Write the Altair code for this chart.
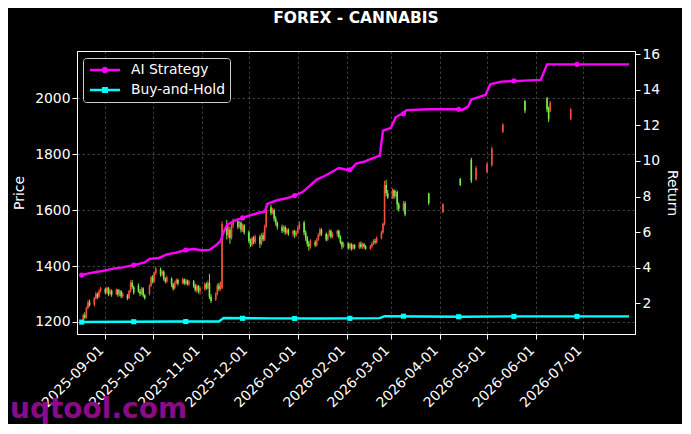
import altair as alt
import pandas as pd

TITLE = "FOREX - CANNABIS"
WATERMARK = "uqtool.com"
SERIES = ["AI Strategy", "Buy-and-Hold"]
MAGENTA = "#ff00ff"
CYAN = "#00ffff"
RED = "#f0503c"
GREEN = "#74ee48"
FONT = "DejaVu Sans"

# ---- candlestick data (daily, weekdays from 2025-08-18 to 2026-03-10, then sparse days)
dense_start = "2025-08-18"
dense_end = "2026-03-10"
sparse_dates = ["2026-03-25", "2026-04-03", "2026-04-14", "2026-04-21", "2026-04-24",
                "2026-05-01", "2026-05-04", "2026-05-11", "2026-05-25", "2026-06-08",
                "2026-06-09", "2026-06-10", "2026-06-23"]

opens = [
    1205, 1225, 1215, 1250, 1270,
    1262, 1285, 1300, 1290, 1310,
    1318, 1305, 1322, 1300, 1312,
    1300, 1315, 1298, 1310, 1292,
    1295, 1285, 1310, 1340, 1325,
    1330, 1310, 1300, 1320, 1295,
    1300, 1330, 1360, 1345, 1375,
    1388, 1370, 1380, 1355, 1345,
    1355, 1335, 1320, 1340, 1350,
    1340, 1352, 1338, 1348, 1335,
    1345, 1330, 1315, 1328, 1310,
    1318, 1335, 1320, 1340, 1290,
    1280, 1300, 1330, 1318, 1320,
    1550, 1510, 1530, 1500, 1545,
    1560, 1540, 1555, 1530, 1545,
    1520, 1490, 1475, 1500, 1485,
    1505, 1480, 1510, 1495, 1540,
    1610, 1590, 1600, 1570, 1555,
    1540, 1525, 1540, 1520, 1530,
    1515, 1525, 1510, 1520, 1535,
    1555, 1520, 1500, 1480, 1470,
    1485, 1475, 1495, 1510, 1530,
    1515, 1495, 1510, 1525, 1505,
    1515, 1525, 1505, 1485, 1470,
    1480, 1465, 1478, 1462, 1475,
    1465, 1480, 1468, 1478, 1470,
    1462, 1470, 1480, 1490, 1485,
    1500, 1520, 1550, 1690, 1660,
    1645, 1670, 1650, 1665, 1620,
    1600, 1625,
    1660, 1592, 1712, 1780, 1710, 1735, 1760, 1880, 1990, 2000, 1965, 1955, 1925,
]
closes = [
    1225, 1215, 1250, 1270, 1260,
    1285, 1300, 1290, 1310, 1320,
    1305, 1322, 1300, 1312, 1298,
    1315, 1298, 1310, 1292, 1300,
    1285, 1310, 1340, 1325, 1305,
    1310, 1300, 1320, 1295, 1285,
    1330, 1360, 1345, 1375, 1390,
    1370, 1380, 1355, 1345, 1360,
    1335, 1320, 1340, 1350, 1338,
    1352, 1338, 1348, 1335, 1345,
    1330, 1315, 1328, 1310, 1322,
    1335, 1320, 1340, 1290, 1275,
    1300, 1330, 1318, 1340, 1550,
    1510, 1530, 1500, 1545, 1560,
    1540, 1555, 1530, 1545, 1520,
    1490, 1475, 1500, 1485, 1505,
    1480, 1510, 1495, 1540, 1610,
    1590, 1600, 1570, 1555, 1540,
    1525, 1540, 1520, 1530, 1515,
    1525, 1510, 1520, 1535, 1550,
    1520, 1500, 1480, 1470, 1490,
    1475, 1495, 1510, 1530, 1515,
    1495, 1510, 1525, 1505, 1515,
    1525, 1505, 1485, 1470, 1480,
    1465, 1478, 1462, 1475, 1465,
    1480, 1468, 1478, 1470, 1462,
    1470, 1480, 1490, 1485, 1500,
    1520, 1550, 1690, 1660, 1645,
    1670, 1650, 1665, 1620, 1605,
    1625, 1585,
    1625, 1620, 1690, 1705, 1750, 1765, 1820, 1905, 1955, 1960, 1925, 1985, 1960,
]
highs = [
    1230, 1235, 1255, 1278, 1280,
    1290, 1308, 1305, 1318, 1325,
    1322, 1326, 1325, 1318, 1316,
    1320, 1318, 1316, 1314, 1306,
    1300, 1315, 1348, 1350, 1330,
    1338, 1318, 1325, 1324, 1300,
    1335, 1365, 1368, 1380, 1398,
    1395, 1386, 1384, 1360, 1366,
    1360, 1340, 1346, 1356, 1355,
    1358, 1356, 1354, 1352, 1350,
    1350, 1336, 1334, 1332, 1328,
    1340, 1342, 1348, 1372, 1300,
    1306, 1338, 1340, 1345, 1560,
    1565, 1545, 1540, 1555, 1570,
    1570, 1562, 1560, 1552, 1550,
    1528, 1498, 1505, 1508, 1512,
    1512, 1518, 1520, 1548, 1625,
    1620, 1608, 1605, 1578, 1560,
    1548, 1546, 1545, 1536, 1535,
    1530, 1530, 1526, 1545, 1560,
    1562, 1528, 1508, 1490, 1496,
    1492, 1500, 1518, 1538, 1535,
    1520, 1515, 1532, 1530, 1520,
    1530, 1530, 1510, 1490, 1486,
    1485, 1484, 1482, 1480, 1478,
    1486, 1488, 1484, 1482, 1475,
    1476, 1486, 1496, 1498, 1506,
    1526, 1556, 1705, 1708, 1672,
    1678, 1675, 1672, 1670, 1628,
    1632, 1632,
    1662, 1625, 1715, 1787, 1758, 1770, 1826, 1911, 1994, 2005, 1970, 1990, 1965,
]
lows = [
    1200, 1210, 1212, 1245, 1255,
    1255, 1280, 1282, 1286, 1305,
    1298, 1300, 1292, 1295, 1290,
    1296, 1290, 1292, 1285, 1286,
    1278, 1282, 1305, 1318, 1298,
    1305, 1292, 1296, 1288, 1280,
    1295, 1325, 1338, 1340, 1368,
    1362, 1364, 1348, 1338, 1340,
    1325, 1312, 1316, 1335, 1330,
    1335, 1332, 1333, 1330, 1330,
    1322, 1308, 1305, 1302, 1298,
    1312, 1315, 1318, 1282, 1268,
    1275, 1295, 1310, 1312, 1318,
    1495, 1500, 1480, 1495, 1535,
    1532, 1535, 1520, 1522, 1512,
    1482, 1468, 1470, 1478, 1480,
    1465, 1475, 1488, 1490, 1535,
    1582, 1585, 1560, 1545, 1530,
    1518, 1520, 1512, 1514, 1508,
    1505, 1500, 1505, 1515, 1530,
    1510, 1490, 1470, 1455, 1462,
    1468, 1470, 1490, 1505, 1508,
    1488, 1490, 1505, 1498, 1500,
    1505, 1498, 1478, 1460, 1465,
    1458, 1460, 1455, 1458, 1460,
    1460, 1462, 1462, 1462, 1458,
    1458, 1465, 1475, 1478, 1480,
    1495, 1515, 1545, 1650, 1640,
    1640, 1640, 1645, 1600, 1595,
    1595, 1578,
    1618, 1589, 1686, 1697, 1705, 1733, 1755, 1876, 1947, 1950, 1915, 1950, 1922,
]

# ---- return curves
ai_dates = ["2025-08-17", "2025-08-22", "2025-08-29", "2025-09-06", "2025-09-12", "2025-09-19",
            "2025-09-26", "2025-09-29", "2025-10-05", "2025-10-10", "2025-10-16", "2025-10-22",
            "2025-10-27", "2025-11-01", "2025-11-06", "2025-11-10", "2025-11-13", "2025-11-15",
            "2025-11-17", "2025-11-22", "2025-11-27", "2025-12-02", "2025-12-08", "2025-12-11",
            "2025-12-13", "2025-12-19", "2025-12-25", "2025-12-30", "2026-01-04", "2026-01-08",
            "2026-01-13", "2026-01-18", "2026-01-22", "2026-01-27", "2026-02-01", "2026-02-04",
            "2026-02-07", "2026-02-12", "2026-02-16", "2026-02-22", "2026-02-24", "2026-03-01",
            "2026-03-04", "2026-03-08", "2026-03-11", "2026-03-25", "2026-04-13", "2026-04-15",
            "2026-04-19", "2026-04-21", "2026-04-30", "2026-05-03", "2026-05-10", "2026-06-04",
            "2026-06-08", "2026-07-30"]
ai_values = [3.59, 3.70, 3.80, 3.95, 4.02, 4.15,
             4.30, 4.50, 4.55, 4.75, 4.85, 5.00,
             5.05, 4.98, 5.00, 5.25, 5.50, 6.00,
             6.40, 6.65, 6.80, 6.95, 7.10, 7.15,
             7.60, 7.80, 7.90, 8.05, 8.25, 8.55,
             8.95, 9.15, 9.35, 9.60, 9.50, 9.55,
             9.85, 9.95, 10.10, 10.30, 11.70, 11.85,
             12.45, 12.65, 12.85, 12.90, 12.90, 12.85,
             13.05, 13.45, 13.70, 14.30, 14.45, 14.55,
             15.42, 15.42]
bh_dates = ["2025-08-17", "2025-09-15", "2025-10-15", "2025-11-12", "2025-11-15", "2025-12-15",
            "2026-01-15", "2026-02-22", "2026-02-25", "2026-04-15", "2026-05-15", "2026-07-30"]
bh_values = [0.95, 0.97, 0.98, 0.98, 1.18, 1.16,
             1.15, 1.17, 1.28, 1.25, 1.27, 1.27]

marker_dates = ["2025-08-17", "2025-09-19", "2025-10-22", "2025-11-27", "2025-12-30",
                "2026-02-03", "2026-03-09", "2026-04-13", "2026-05-18", "2026-06-27"]
ai_marker_values = [3.59, 4.15, 5.00, 6.80, 8.05, 9.50, 12.65, 12.90, 14.50, 15.42]
bh_marker_values = [0.95, 0.97, 0.98, 1.16, 1.15, 1.16, 1.28, 1.25, 1.27, 1.27]

price_ticks = [1200, 1400, 1600, 1800, 2000]
return_ticks = [2, 4, 6, 8, 10, 12, 14, 16]
month_ticks = [(2025, 9), (2025, 10), (2025, 11), (2025, 12), (2026, 1), (2026, 2),
               (2026, 3), (2026, 4), (2026, 5), (2026, 6), (2026, 7)]

# ---- tables
dense_dates = pd.bdate_range(dense_start, dense_end).strftime("%Y-%m-%d").tolist()
cdf = pd.DataFrame({"date": dense_dates + sparse_dates, "open": opens, "close": closes,
                    "high": highs, "low": lows})
lines_df = pd.concat([
    pd.DataFrame({"date": ai_dates, "ret": ai_values, "series": SERIES[0], "col": MAGENTA}),
    pd.DataFrame({"date": bh_dates, "ret": bh_values, "series": SERIES[1], "col": CYAN}),
])
markers_df = pd.concat([
    pd.DataFrame({"date": marker_dates, "ret": ai_marker_values, "series": SERIES[0],
                  "col": MAGENTA, "shp": "circle"}),
    pd.DataFrame({"date": marker_dates, "ret": bh_marker_values, "series": SERIES[1],
                  "col": CYAN, "shp": "square"}),
])

# ---- scales and axes
x_scale = alt.Scale(type="utc", domain=[
    alt.DateTime(year=2025, month=8, date=17, hours=5, utc=True),
    alt.DateTime(year=2026, month=7, date=30, hours=14, utc=True)])
x_axis = alt.Axis(
    title=None, values=[alt.DateTime(year=y, month=m, date=1, utc=True) for y, m in month_ticks],
    format="%Y-%m-%d", labelAngle=315, labelAlign="right", labelBaseline="top",
    labelPadding=4, labelOffset=-9, labelOverlap=False, grid=True)
price_scale = alt.Scale(domain=[1157, 2169], zero=False, nice=False)
price_axis = alt.Axis(title="Price", values=price_ticks, format="d", grid=True, titlePadding=8)
ret_scale = alt.Scale(domain=[0.28, 16.17], zero=False, nice=False)
ret_axis = alt.Axis(title="Return", orient="right", values=return_ticks, format="d",
                    grid=False, titlePadding=5)

X = alt.X("date:T", scale=x_scale, axis=x_axis)
candle_color = alt.condition("datum.close > datum.open", alt.value(RED), alt.value(GREEN))

wick = alt.Chart(cdf).mark_rule(strokeWidth=1).encode(
    x=X, y=alt.Y("low:Q", scale=price_scale, axis=price_axis), y2="high:Q", color=candle_color)
body = alt.Chart(cdf).mark_bar(size=1.6).encode(
    x=X, y=alt.Y("open:Q", scale=price_scale, axis=price_axis), y2="close:Q", color=candle_color)
price_layer = alt.layer(wick, body)

Yr = alt.Y("ret:Q", scale=ret_scale, axis=ret_axis)
lines = alt.Chart(lines_df).mark_line(strokeWidth=2.4).encode(
    x=X, y=Yr, detail="series:N", color=alt.Color("col:N", scale=None))
markers = alt.Chart(markers_df).mark_point(filled=True, opacity=1, size=26).encode(
    x=X, y=Yr, color=alt.Color("col:N", scale=None), shape=alt.Shape("shp:N", scale=None))

# legend symbols: a 30px line with a marker in its middle (unit = 5px with symbolSize 100)
AI_SYMBOL = ("M-1,-0.25L5,-0.25L5,0.25L-1,0.25Z "
             "M1.34,0A0.66,0.66,0,1,1,2.66,0A0.66,0.66,0,1,1,1.34,0Z")
BH_SYMBOL = ("M-1,-0.25L5,-0.25L5,0.25L-1,0.25Z "
             "M1.4,-0.6L2.6,-0.6L2.6,0.6L1.4,0.6Z")
legend = alt.Legend(title=None, orient="none", legendX=6, legendY=7, direction="vertical",
                    fillColor="#000000", strokeColor="#cccccc", cornerRadius=3, padding=5,
                    labelFontSize=13.9, labelColor="white", labelFont=FONT, symbolSize=100,
                    rowPadding=5, labelOffset=29, symbolStrokeWidth=0)
legend_layer = alt.Chart(markers_df).transform_filter("datum.ret < -100").mark_point(
    filled=True, opacity=1).encode(
    x=X, y=Yr,
    color=alt.Color("series:N", scale=alt.Scale(domain=SERIES, range=[MAGENTA, CYAN]), legend=legend),
    shape=alt.Shape("series:N", scale=alt.Scale(domain=SERIES, range=[AI_SYMBOL, BH_SYMBOL]),
                    legend=legend))
ret_layer = alt.layer(lines, markers, legend_layer)

wm = alt.Chart(pd.DataFrame({"t": [WATERMARK]})).mark_text(
    align="left", baseline="alphabetic", fontSize=28, fontWeight="bold", font=FONT,
    color="#8a0a8a").encode(text="t:N", x=alt.value(-67), y=alt.value(367))

chart = alt.layer(price_layer, ret_layer, wm).resolve_scale(y="independent").properties(
    width=558, height=283, autosize="none",
    padding={"left": 69, "top": 43, "right": 47, "bottom": 90},
    title=alt.TitleParams(TITLE, fontSize=15.5, fontWeight="bold", color="white", font=FONT,
                          anchor="middle", offset=21),
).configure(background="black").configure_view(stroke="white", strokeWidth=1).configure_axis(
    domainColor="white", tickColor="white", labelColor="white", titleColor="white",
    labelFont=FONT, titleFont=FONT, labelFontSize=13.9, titleFontSize=13.9,
    titleFontWeight="normal", tickSize=5, domainWidth=1, tickWidth=1,
    gridColor="#ffffff", gridOpacity=0.3, gridDash=[2.5, 2.5], gridWidth=0.8)

chart.save("out.html", embed_options={"renderer": "svg", "actions": False})
